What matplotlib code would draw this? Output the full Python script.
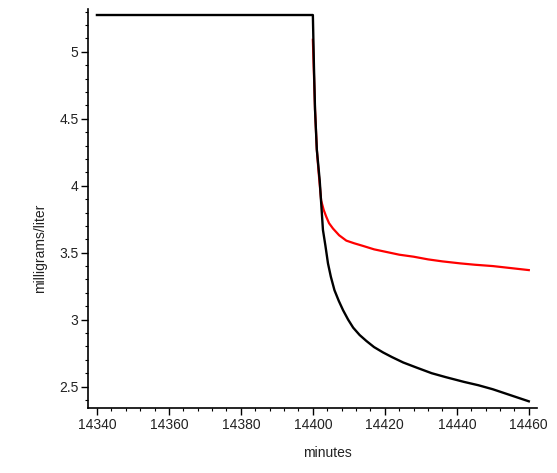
import matplotlib
matplotlib.use("Agg")
import matplotlib.pyplot as plt
from matplotlib.ticker import MultipleLocator

plt.rcParams['font.family'] = ['Liberation Sans', 'DejaVu Sans']

# Black curve (time in minutes, concentration mg/L)
black_t = [14340, 14400, 14400.3, 14400.6, 14401.1, 14401.9, 14402.8, 14403.5,
           14404.2, 14405, 14406, 14407.2, 14408.4, 14409.8, 14411.2, 14413,
           14414.9, 14417, 14419.5, 14422, 14425.1, 14429, 14433, 14437,
           14442, 14446, 14450, 14455, 14460]
black_c = [5.275, 5.275, 4.89, 4.57, 4.27, 4.04, 3.67, 3.55,
           3.42, 3.32, 3.22, 3.14, 3.07, 3.00, 2.94, 2.885,
           2.84, 2.795, 2.755, 2.72, 2.68, 2.64, 2.60, 2.57,
           2.535, 2.51, 2.48, 2.435, 2.39]

# Red curve
red_t = [14400, 14400.6, 14401.1, 14401.6, 14402.3, 14403, 14403.7, 14404.5,
         14405.6, 14407.3, 14409.3, 14411.5, 14414, 14417, 14420.5, 14424,
         14428, 14432, 14436, 14441, 14445, 14450, 14455, 14460]
red_c = [5.09, 4.57, 4.27, 4.10, 3.89, 3.82, 3.77, 3.72,
         3.68, 3.63, 3.59, 3.57, 3.55, 3.525, 3.505, 3.485,
         3.47, 3.45, 3.435, 3.42, 3.41, 3.40, 3.385, 3.37]

x_ticks = [14340, 14360, 14380, 14400, 14420, 14440, 14460]
x_tick_labels = ["14340", "14360", "14380", "14400", "14420", "14440", "14460"]
y_ticks = [2.5, 3, 3.5, 4, 4.5, 5]
y_tick_labels = ["2.5", "3", "3.5", "4", "4.5", "5"]

fig = plt.figure(figsize=(5.57, 4.73), dpi=100)
ax = fig.add_axes([0.1585, 0.1374, 0.8051, 0.8436])

ax.plot(red_t, red_c, color="#ff0000", lw=1.6, zorder=2, solid_joinstyle="round")
ax.plot(black_t, black_c, color="black", lw=1.7, zorder=3, solid_joinstyle="round")

ax.set_xlim(14337.6, 14462.2)
ax.set_ylim(2.34, 5.32)

ax.set_xticks(x_ticks)
ax.set_xticklabels(x_tick_labels)
ax.set_yticks(y_ticks)
ax.set_yticklabels(y_tick_labels)
ax.xaxis.set_minor_locator(MultipleLocator(4))
ax.yaxis.set_minor_locator(MultipleLocator(0.1))

for s in ["top", "right"]:
    ax.spines[s].set_visible(False)
for s in ["left", "bottom"]:
    ax.spines[s].set_linewidth(1.2)

ax.tick_params(axis="both", which="major", direction="out", length=5, width=1,
               labelsize=10, labelcolor="#222222", pad=2)
ax.tick_params(axis="both", which="minor", direction="out", length=2.5, width=0.8)

fig.text(0.072, 0.475, "milligrams/liter", rotation=90, ha="center", va="center",
         fontsize=10, color="#222222")
fig.text(0.587, 0.042, "minutes", ha="center", va="center", fontsize=10,
         color="#222222")

fig.savefig("out.png", dpi=100, facecolor="white")
